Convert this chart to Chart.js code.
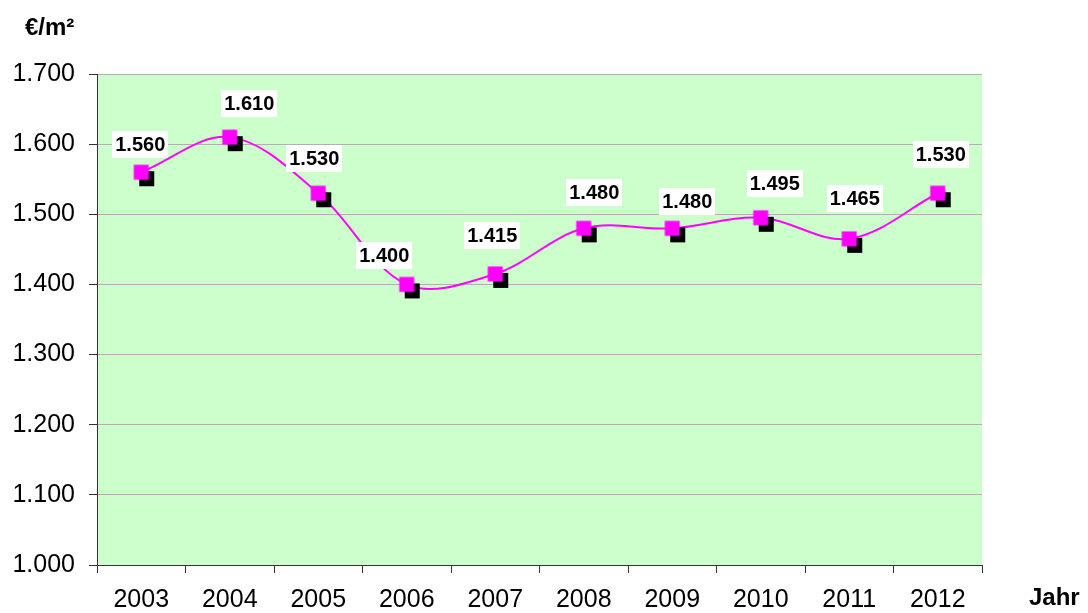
<!DOCTYPE html>
<html>
<head>
<meta charset="utf-8">
<script src="https://cdn.jsdelivr.net/npm/chart.js@4/dist/chart.umd.min.js"></script>
<style>
  html, body { margin: 0; padding: 0; background: #ffffff; }
  #wrap { width: 1088px; height: 613px; position: relative; }
</style>
</head>
<body>
<div id="wrap"><canvas id="c" width="1088" height="613"></canvas></div>
<script>
// ---- data ----
const years = ['2003', '2004', '2005', '2006', '2007', '2008', '2009', '2010', '2011', '2012'];
const prices = [1560, 1610, 1530, 1400, 1415, 1480, 1480, 1495, 1465, 1530];
const priceLabels = ['1.560', '1.610', '1.530', '1.400', '1.415', '1.480', '1.480', '1.495', '1.465', '1.530'];
const yTickLabels = ['1.000', '1.100', '1.200', '1.300', '1.400', '1.500', '1.600', '1.700'];
const yUnit = '€/m²';
const xUnit = 'Jahr';

// ---- label placement (style: offset of each value label from its point, px) ----
const labelDX = [-1, 19.5, -4, -22.5, -3, 10.5, 15, 14, 5.5, 3];
const labelDY = [-28, -33.5, -35, -28.5, -38.5, -36, -27, -34.5, -40, -39];

// marker image: magenta square with black drop shadow
function makeMarker() {
  const c = document.createElement('canvas');
  c.width = 30; c.height = 30;
  const g = c.getContext('2d');
  g.fillStyle = '#000000';
  g.fillRect(13, 14, 15, 15);
  g.fillStyle = '#ff00ff';
  g.fillRect(7.5, 7.5, 15, 15);
  return c;
}
const marker = makeMarker();

const bgPlugin = {
  id: 'plotBg',
  beforeDraw(chart) {
    const a = chart.chartArea, ctx = chart.ctx;
    ctx.save();
    ctx.fillStyle = '#ccffcc';
    ctx.fillRect(a.left, a.top, a.right - a.left, a.bottom - a.top);
    ctx.restore();
  }
};

const textPlugin = {
  id: 'extraText',
  afterDraw(chart) {
    const ctx = chart.ctx;
    ctx.save();
    ctx.fillStyle = '#000000';
    ctx.font = 'bold 24px "Liberation Sans", Arial, sans-serif';
    ctx.textBaseline = 'alphabetic';
    ctx.textAlign = 'left';
    ctx.fillText(yUnit, 25, 35);
    ctx.fillText(xUnit, 1029, 605);
    ctx.restore();
  }
};

const labelPlugin = {
  id: 'valueLabels',
  afterDatasetsDraw(chart) {
    const ctx = chart.ctx;
    const meta = chart.getDatasetMeta(0);
    ctx.save();
    ctx.font = 'bold 20px "Liberation Sans", Arial, sans-serif';
    ctx.textAlign = 'center';
    ctx.textBaseline = 'middle';
    meta.data.forEach((pt, i) => {
      const txt = priceLabels[i];
      const cx = pt.x + labelDX[i];
      const cy = pt.y + labelDY[i];
      const w = ctx.measureText(txt).width + 6;
      const h = 27;
      ctx.fillStyle = '#ffffff';
      ctx.fillRect(Math.round(cx - w / 2), Math.round(cy - h / 2), Math.round(w), h);
      ctx.fillStyle = '#000000';
      ctx.fillText(txt, cx, cy + 1);
    });
    ctx.restore();
  }
};

new Chart(document.getElementById('c'), {
  type: 'line',
  data: {
    labels: years,
    datasets: [{
      data: prices,
      borderColor: '#ff00ff',
      borderWidth: 2,
      tension: 0.35,
      fill: false,
      pointStyle: marker,
      pointRadius: 8
    }]
  },
  options: {
    responsive: false,
    animation: false,
    events: [],
    layout: { padding: { left: 0, top: 74, right: 106, bottom: 0 } },
    plugins: { legend: { display: false }, tooltip: { enabled: false }, title: { display: false } },
    scales: {
      x: {
        type: 'category',
        offset: true,
        grid: { offset: true, drawOnChartArea: false, drawTicks: true, tickLength: 8, tickColor: '#333333', lineWidth: 1 },
        border: { color: '#333333', width: 1 },
        ticks: {
          color: '#000000',
          padding: 12,
          maxRotation: 0,
          font: { family: '"Liberation Sans", Arial, sans-serif', size: 25 }
        },
        afterFit(s) { s.height = 48; }
      },
      y: {
        min: 1000,
        max: 1700,
        grid: { color: '#b0b0b0', tickColor: '#333333', tickLength: 8, lineWidth: 1 },
        border: { color: '#333333', width: 1 },
        ticks: {
          stepSize: 100,
          color: '#000000',
          padding: 14,
          font: { family: '"Liberation Sans", Arial, sans-serif', size: 25 },
          callback(v) { return yTickLabels[Math.round((v - 1000) / 100)]; }
        },
        afterFit(s) { s.width = 97; }
      }
    }
  },
  plugins: [bgPlugin, labelPlugin, textPlugin]
});
</script>
</body>
</html>
